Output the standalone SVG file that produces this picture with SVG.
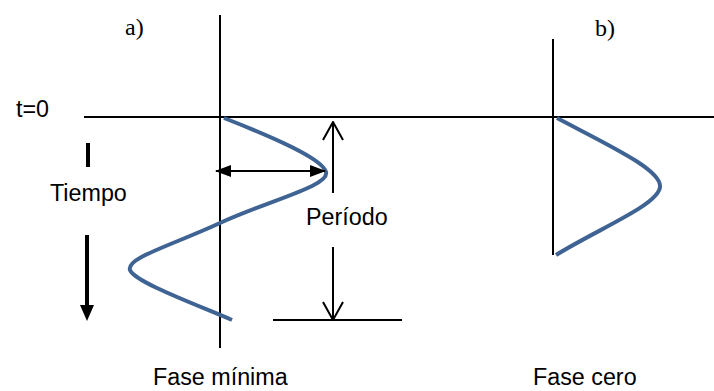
<svg xmlns="http://www.w3.org/2000/svg" width="714" height="391" viewBox="0 0 714 391">
<style>
.ln{stroke:#000;stroke-width:2;fill:none}
.wave{stroke:#3F6494;stroke-width:4;fill:none;stroke-linecap:butt}
.lbl{font-family:"Liberation Sans",Arial,sans-serif;font-size:23.3px;fill:#000}
.ser{font-family:"Liberation Serif","Times New Roman",serif;font-size:24px;fill:#000}
</style>
<defs>
<marker id="fill" viewBox="0 0 16 12" refX="15" refY="6" markerWidth="16" markerHeight="12" markerUnits="userSpaceOnUse" orient="auto-start-reverse">
<path d="M0,0 L16,6 L0,12 Z" fill="#000"/>
</marker>
<marker id="open" viewBox="0 0 20 22" refX="19" refY="11" markerWidth="20" markerHeight="22" markerUnits="userSpaceOnUse" orient="auto">
<path d="M1,1 L19,11 L1,21" fill="none" stroke="#000" stroke-width="2"/>
</marker>
</defs>
<g id="axes">
<line class="ln" x1="84" y1="117" x2="714" y2="117"/>
<line class="ln" x1="220" y1="15" x2="220" y2="348"/>
<line class="ln" x1="553" y1="39" x2="553" y2="255"/>
<line class="ln" x1="273" y1="320" x2="402" y2="320"/>
</g>
<g id="wave-a">
<path class="wave" d="M224,118 C270,136 322,158 326,172 C330,186 270,200 220,223 C170,246 126,258 130,270 C134,282 200,306 232,320"/>
</g>
<g id="wave-b">
<path class="wave" d="M557,118 C610,146 662,170 660,187 C658,205 600,228 556,255"/>
</g>
<g id="connectors">
<line x1="216" y1="171" x2="325" y2="171" stroke="#000" stroke-width="2" marker-start="url(#fill)" marker-end="url(#fill)"/>
<line x1="333" y1="193" x2="333" y2="122" stroke="#000" stroke-width="2" marker-end="url(#open)"/>
<line x1="333" y1="247" x2="333" y2="320" stroke="#000" stroke-width="2" marker-end="url(#open)"/>
<line x1="88" y1="143" x2="88" y2="167" stroke="#000" stroke-width="4"/>
<line x1="87" y1="235" x2="87" y2="306" stroke="#000" stroke-width="4"/>
<path d="M80,305 L94,305 L87,321 Z" fill="#000"/>
</g>
<g id="labels">
<text class="lbl" x="16" y="117">t=0</text>
<text class="lbl" x="50" y="201">Tiempo</text>
<text class="lbl" x="306" y="225">Período</text>
<text class="lbl" x="153" y="385">Fase mínima</text>
<text class="lbl" x="533" y="385">Fase cero</text>
<text class="ser" x="125" y="35">a)</text>
<text class="ser" x="595" y="36">b)</text>
</g>
</svg>
